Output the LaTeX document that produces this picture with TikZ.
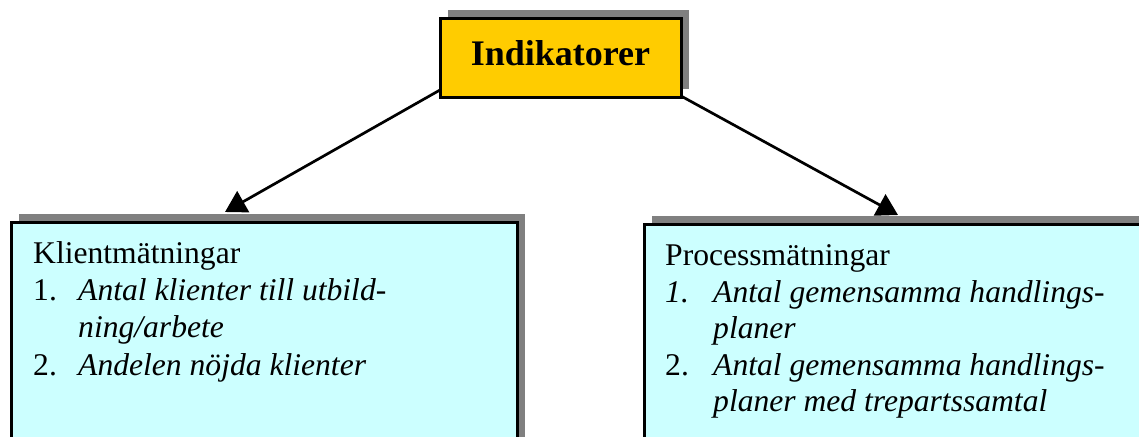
\documentclass[tikz,border=0pt]{standalone}
\usepackage{fontspec}
\setmainfont{Liberation Serif}
\usetikzlibrary{arrows.meta,shadows}
\definecolor{headyellow}{HTML}{FFCC00}
\definecolor{panelcyan}{HTML}{CCFFFF}
\definecolor{shadowgray}{HTML}{808080}
\begin{document}
\begin{tikzpicture}[x=1pt,y=-1pt,
  shadowed/.style={drop shadow={shadow xshift=7.5pt,shadow yshift=8.5pt,fill=shadowgray,opacity=1}},
  headbox/.style={draw=black,line width=3pt,fill=headyellow,shadowed,rectangle,inner sep=0pt,
    minimum width=241pt,minimum height=78pt,text height=24pt,text depth=10pt,
    font=\fontsize{36}{40}\selectfont\bfseries},
  panel/.style={draw=black,line width=2.7pt,fill=panelcyan,shadowed,rectangle,inner sep=0pt,anchor=north west},
  txt/.style={anchor=base west,inner sep=0pt,font=\fontsize{31.6}{37}\selectfont},
  link/.style={line width=2.7pt,-{Triangle[length=21pt,width=24pt]}}]
\useasboundingbox (0,0) rectangle (1139,436);
\clip (0,0) rectangle (1139,436);

% header
\node[headbox] (head) at (560.5,58) {Indikatorer};

% lower panels
\node[panel,minimum width=506pt,minimum height=260pt] (left) at (10,221) {};
\node[panel,minimum width=520pt,minimum height=240pt] (right) at (643,223) {};

% left panel text
\node[txt] (k0) at (33,263) {Klientmätningar};
\node[txt] (k1n) at (33,300) {1.};
\node[txt] (k1) at (78,300) {\itshape Antal klienter till utbild-};
\node[txt] (k1b) at (78,337) {\itshape ning/arbete};
\node[txt] (k2n) at (33,375) {2.};
\node[txt] (k2) at (78,375) {\itshape Andelen nöjda klienter};

% right panel text
\node[txt] (p0) at (665,265) {Processmätningar};
\node[txt] (p1n) at (665,302) {\itshape 1.};
\node[txt] (p1) at (713,302) {\itshape Antal gemensamma handlings-};
\node[txt] (p1b) at (713,338) {\itshape planer};
\node[txt] (p2n) at (665,375) {2.};
\node[txt] (p2) at (713,375) {\itshape Antal gemensamma handlings-};
\node[txt] (p2b) at (713,411) {\itshape planer med trepartssamtal};

% connectors
\coordinate (lstart) at (440,90);
\coordinate (rstart) at (681,96);
\coordinate (ltip) at (225,212);
\coordinate (rtip) at (898,215);
\draw[link] (lstart) -- (ltip);
\draw[link] (rstart) -- (rtip);
\end{tikzpicture}
\end{document}
